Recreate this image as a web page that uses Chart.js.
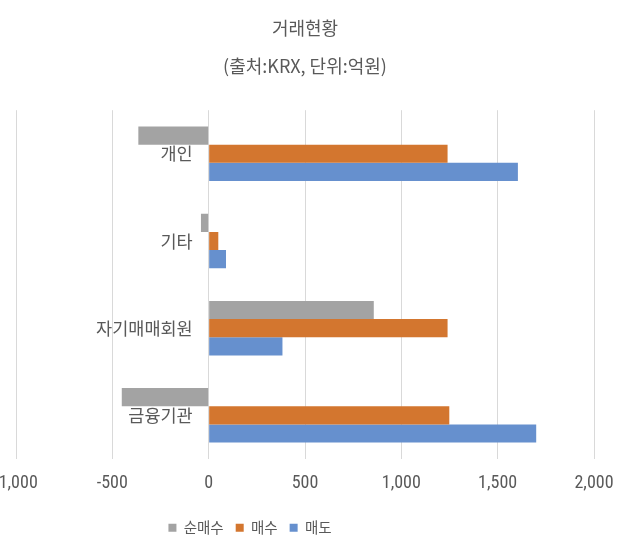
<!DOCTYPE html>
<html>
<head>
<meta charset="utf-8">
<script src="https://cdn.jsdelivr.net/npm/chart.js@4/dist/chart.umd.min.js"></script>
<style>
html,body{margin:0;padding:0;background:#fff;overflow:hidden;}
#wrap{position:absolute;left:-24px;top:0;width:664px;height:555px;}
</style>
</head>
<body>
<div id="wrap"><canvas id="c"></canvas></div>
<script>
const categories = ['개인', '기타', '자기매매회원', '금융기관'];
const netBuy = [-365, -40, 857, -451];
const buy = [1240, 50, 1240, 1249];
const sell = [1605, 90, 383, 1700];
const seriesNames = ['순매수', '매수', '매도'];
const xTicks = [-1000, -500, 0, 500, 1000, 1500, 2000];

const FONT = "'Noto Sans CJK KR', 'Noto Sans', sans-serif";
const NARROW = "'Liberation Sans Narrow', 'Roboto Condensed', 'DejaVu Sans Condensed', 'Noto Sans CJK KR', sans-serif";
const TXT = '#595959';

const legendShift = {
  id: 'legendShift',
  afterLayout(chart) {
    const lg = chart.legend;
    if (lg) { lg.left -= 55; lg.right -= 55; }
  }
};

new Chart(document.getElementById('c'), {
  type: 'bar',
  data: {
    labels: categories,
    datasets: [
      { label: seriesNames[0], data: netBuy, backgroundColor: '#A3A3A3' },
      { label: seriesNames[1], data: buy, backgroundColor: '#D3762F' },
      { label: seriesNames[2], data: sell, backgroundColor: '#6690CE' }
    ]
  },
  options: {
    indexAxis: 'y',
    responsive: true,
    maintainAspectRatio: false,
    animation: false,
    datasets: { bar: { categoryPercentage: 0.625, barPercentage: 1.0 } },
    layout: { padding: { left: 40, right: 46, top: 0, bottom: 10 } },
    scales: {
      x: {
        min: xTicks[0],
        max: xTicks[xTicks.length - 1],
        afterBuildTicks: (s) => { s.ticks = xTicks.map(v => ({ value: v })); },
        grid: { color: '#D9D9D9', lineWidth: 1, drawTicks: false },
        border: { display: false },
        ticks: {
          color: TXT,
          padding: 14,
          font: { family: NARROW, size: 18 },
          callback: (v) => Number(v).toLocaleString('en-US')
        }
      },
      y: {
        position: { x: -83 },
        afterFit: (s) => { s.width = 0; },
        grid: { display: false, drawTicks: false },
        border: { display: false },
        ticks: {
          color: TXT,
          padding: 0,
          font: { family: FONT, size: 17.5 }
        }
      }
    },
    plugins: {
      title: {
        display: true,
        text: '거래현황',
        color: TXT,
        font: { family: FONT, size: 18, weight: 'normal' },
        padding: { top: 17, bottom: 17 }
      },
      subtitle: {
        display: true,
        text: '(출처:KRX, 단위:억원)',
        color: TXT,
        font: { family: FONT, size: 18, weight: 'normal' },
        padding: { top: 0, bottom: 33 }
      },
      legend: {
        position: 'bottom',
        labels: {
          color: TXT,
          boxWidth: 8,
          boxHeight: 8,
          padding: 12,
          font: { family: FONT, size: 14.5 }
        }
      },
      tooltip: { enabled: false }
    }
  },
  plugins: [legendShift]
});
</script>
</body>
</html>
